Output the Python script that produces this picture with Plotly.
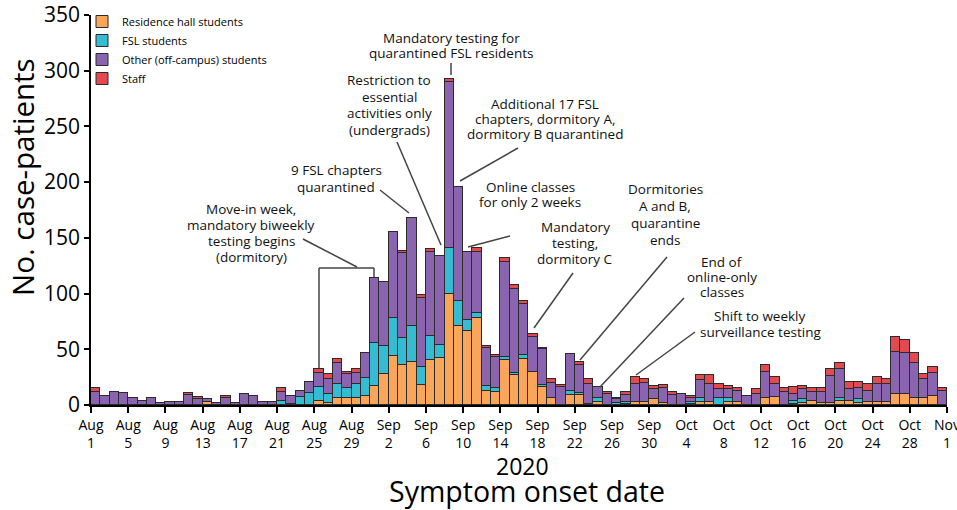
import pandas as pd
import plotly.graph_objects as go

# ---------------- data ----------------
dates = pd.date_range("2020-08-01", "2020-10-31", freq="D")

residence = [0,0,0,0,0,0,0,0,0,0, 0,0,3,0,0,0,0,0,0,0,
             0,0,0,0,4,2,6,6,6,8, 17,28,44,36,39,18,40,42,100,71,
             66,78,13,12,40,27,41,30,16,6, 0,9,9,1,3,0,0,1,3,3,
             5,2,0,0,1,3,3,0,3,3, 0,0,6,7,0,1,2,4,2,2,
             4,4,2,3,3,3,10,10,6,6, 8,0]
fsl = [0,0,0,0,0,0,0,0,0,0, 0,0,0,0,0,0,0,0,0,0,
       4,1,7,11,12,8,13,9,13,16, 39,25,34,24,32,16,22,12,41,22,
       10,5,4,3,3,2,4,0,2,0, 0,4,2,0,3,0,2,2,0,0,
       0,0,0,0,2,3,0,6,3,0, 0,0,0,0,0,3,3,0,0,0,
       2,0,3,0,0,0,0,0,0,0, 0,0]
other = [12,8,12,11,6,4,6,2,3,3, 9,5,2,2,6,2,10,8,3,3,
         8,7,6,10,13,13,19,13,10,23, 58,57,77,76,97,62,75,80,149,103,
         61,54,34,28,85,75,46,31,32,14, 16,33,25,18,10,10,3,6,16,17,
         9,13,9,10,3,16,16,8,8,10, 8,10,24,12,12,6,9,8,10,24,
         26,10,10,10,16,16,38,37,32,17, 21,13]
staff = [3,0,0,0,0,0,0,0,0,0, 2,2,0,0,2,0,0,0,0,0,
         3,0,0,0,3,5,3,2,3,0, 0,0,0,2,0,3,3,0,3,0,
         0,4,2,2,4,4,2,3,1,3, 2,0,3,4,0,2,1,3,6,3,
         3,3,3,0,2,5,8,5,3,2, 0,4,6,6,3,6,3,3,3,6,
         6,7,6,6,6,4,13,11,9,5, 5,2]

series_names = ["Residence hall students", "FSL students",
                "Other (off-campus) students", "Staff"]
series_colors = ["#F9A65A", "#35BCD3", "#8A64AF", "#E34A50"]

tick_labels = ["Aug<br>1", "Aug<br>5", "Aug<br>9", "Aug<br>13", "Aug<br>17",
               "Aug<br>21", "Aug<br>25", "Aug<br>29", "Sep<br>2", "Sep<br>6",
               "Sep<br>10", "Sep<br>14", "Sep<br>18", "Sep<br>22", "Sep<br>26",
               "Sep<br>30", "Oct<br>4", "Oct<br>8", "Oct<br>12", "Oct<br>16",
               "Oct<br>20", "Oct<br>24", "Oct<br>28", "Nov<br>1"]
tick_dates = pd.date_range("2020-08-01", "2020-11-01", freq="4D")

FONT = "Open Sans"

# ---------------- figure ----------------
x_centers = dates + pd.Timedelta(hours=12)
fig = go.Figure()
for vals, name, col in zip([residence, fsl, other, staff], series_names, series_colors):
    fig.add_trace(go.Bar(
        x=x_centers, y=vals, name=name, width=86400000,
        marker=dict(color=col, line=dict(color="#2b2b2b", width=1)),
    ))

W_PX, H_PX = 957, 510
L, R, T, B = 91, 947, 15, 405


def px(x):
    return (x - L) / (R - L)


def py(y):
    return (B - y) / (B - T)


fig.update_layout(
    width=W_PX, height=H_PX,
    margin=dict(l=L, r=W_PX - R, t=T, b=H_PX - B, autoexpand=False),
    barmode="stack", bargap=0,
    plot_bgcolor="white", paper_bgcolor="white",
    font=dict(family=FONT, color="black"),
    showlegend=True,
    legend=dict(x=px(82), y=py(7), xanchor="left", yanchor="top",
                traceorder="normal", bgcolor="rgba(0,0,0,0)",
                font=dict(size=11, family=FONT)),
)
fig.update_xaxes(
    type="date", range=["2020-08-01", "2020-11-01"],
    tickvals=tick_dates, ticktext=tick_labels, automargin=False,
    ticklabeloverflow="allow",
    showgrid=False, zeroline=False, showline=True, linecolor="black", linewidth=1.5,
    ticks="outside", ticklen=6, tickwidth=1.5, tickcolor="black",
    tickfont=dict(size=14, family=FONT),
)
fig.update_yaxes(
    range=[0, 350], tickvals=[0, 50, 100, 150, 200, 250, 300, 350], automargin=False,
    showgrid=False, zeroline=False, showline=True, linecolor="black", linewidth=1.5,
    ticks="outside", ticklen=5, tickwidth=1.5, tickcolor="black",
    tickfont=dict(size=21, family=FONT),
)


def label(text, x, y, size, angle=0, color="black"):
    fig.add_annotation(x=px(x), y=py(y), xref="paper", yref="paper",
                       text=text, textangle=angle, showarrow=False,
                       xanchor="center", yanchor="middle", borderpad=0,
                       font=dict(size=size, family=FONT, color=color))


# axis titles
label("No. case-patients", 22, 177, 29.5, angle=-90)
label("2020", 522, 466, 23)
label("Symptom onset date", 527, 491, 28.5)

# event notes
notes = [
    (["Move-in week,", "mandatory biweekly", "testing begins", "(dormitory)"], 251, [209, 225, 241, 257]),
    (["9 FSL chapters", "quarantined"], 336, [170, 187]),
    (["Restriction to", "essential", "activities only", "(undergrads)"], 389, [80, 97, 113, 130]),
    (["Mandatory testing for", "quarantined FSL residents"], 451, [38, 53]),
    (["Additional 17 FSL", "chapters, dormitory A,", "dormitory B quarantined"], 545, [104, 119, 134]),
    (["Online classes", "for only 2 weeks"], 530, [187, 202]),
    (["Mandatory", "testing,", "dormitory C"], 575, [227, 243, 259]),
    (["Dormitories", "A and B,", "quarantine", "ends"], 665, [189, 206, 223, 240]),
    (["End of", "online-only", "classes"], 722, [262, 277, 292]),
    (["Shift to weekly", "surveillance testing"], 760, [316, 332]),
]
for lines, cx, ys in notes:
    for txt, yy in zip(lines, ys):
        label(txt, cx, yy, 13.5, color="#111")

leaders = [
    ((319, 368), (319, 268)), ((319, 268), (374, 268)), ((374, 268), (374, 277)),
    ((303, 239), (357, 267)),
    ((380, 190), (409, 213)),
    ((397, 142), (441, 245)),
    ((451, 63), (451, 75)),
    ((518, 148), (460, 181)),
    ((510, 236), (468, 247)),
    ((573, 273), (534, 328)),
    ((667, 257), (580, 360)),
    ((684, 298), (600, 387)),
    ((695, 332), (636, 375)),
]
for (x0, y0), (x1, y1) in leaders:
    fig.add_shape(type="line", xref="paper", yref="paper",
                  x0=px(x0), y0=py(y0), x1=px(x1), y1=py(y1),
                  line=dict(color="#444", width=1.5))

fig.write_html("out.html", config={"displayModeBar": False},
               post_script="document.body.style.margin='0px';document.body.style.overflow='hidden';")
